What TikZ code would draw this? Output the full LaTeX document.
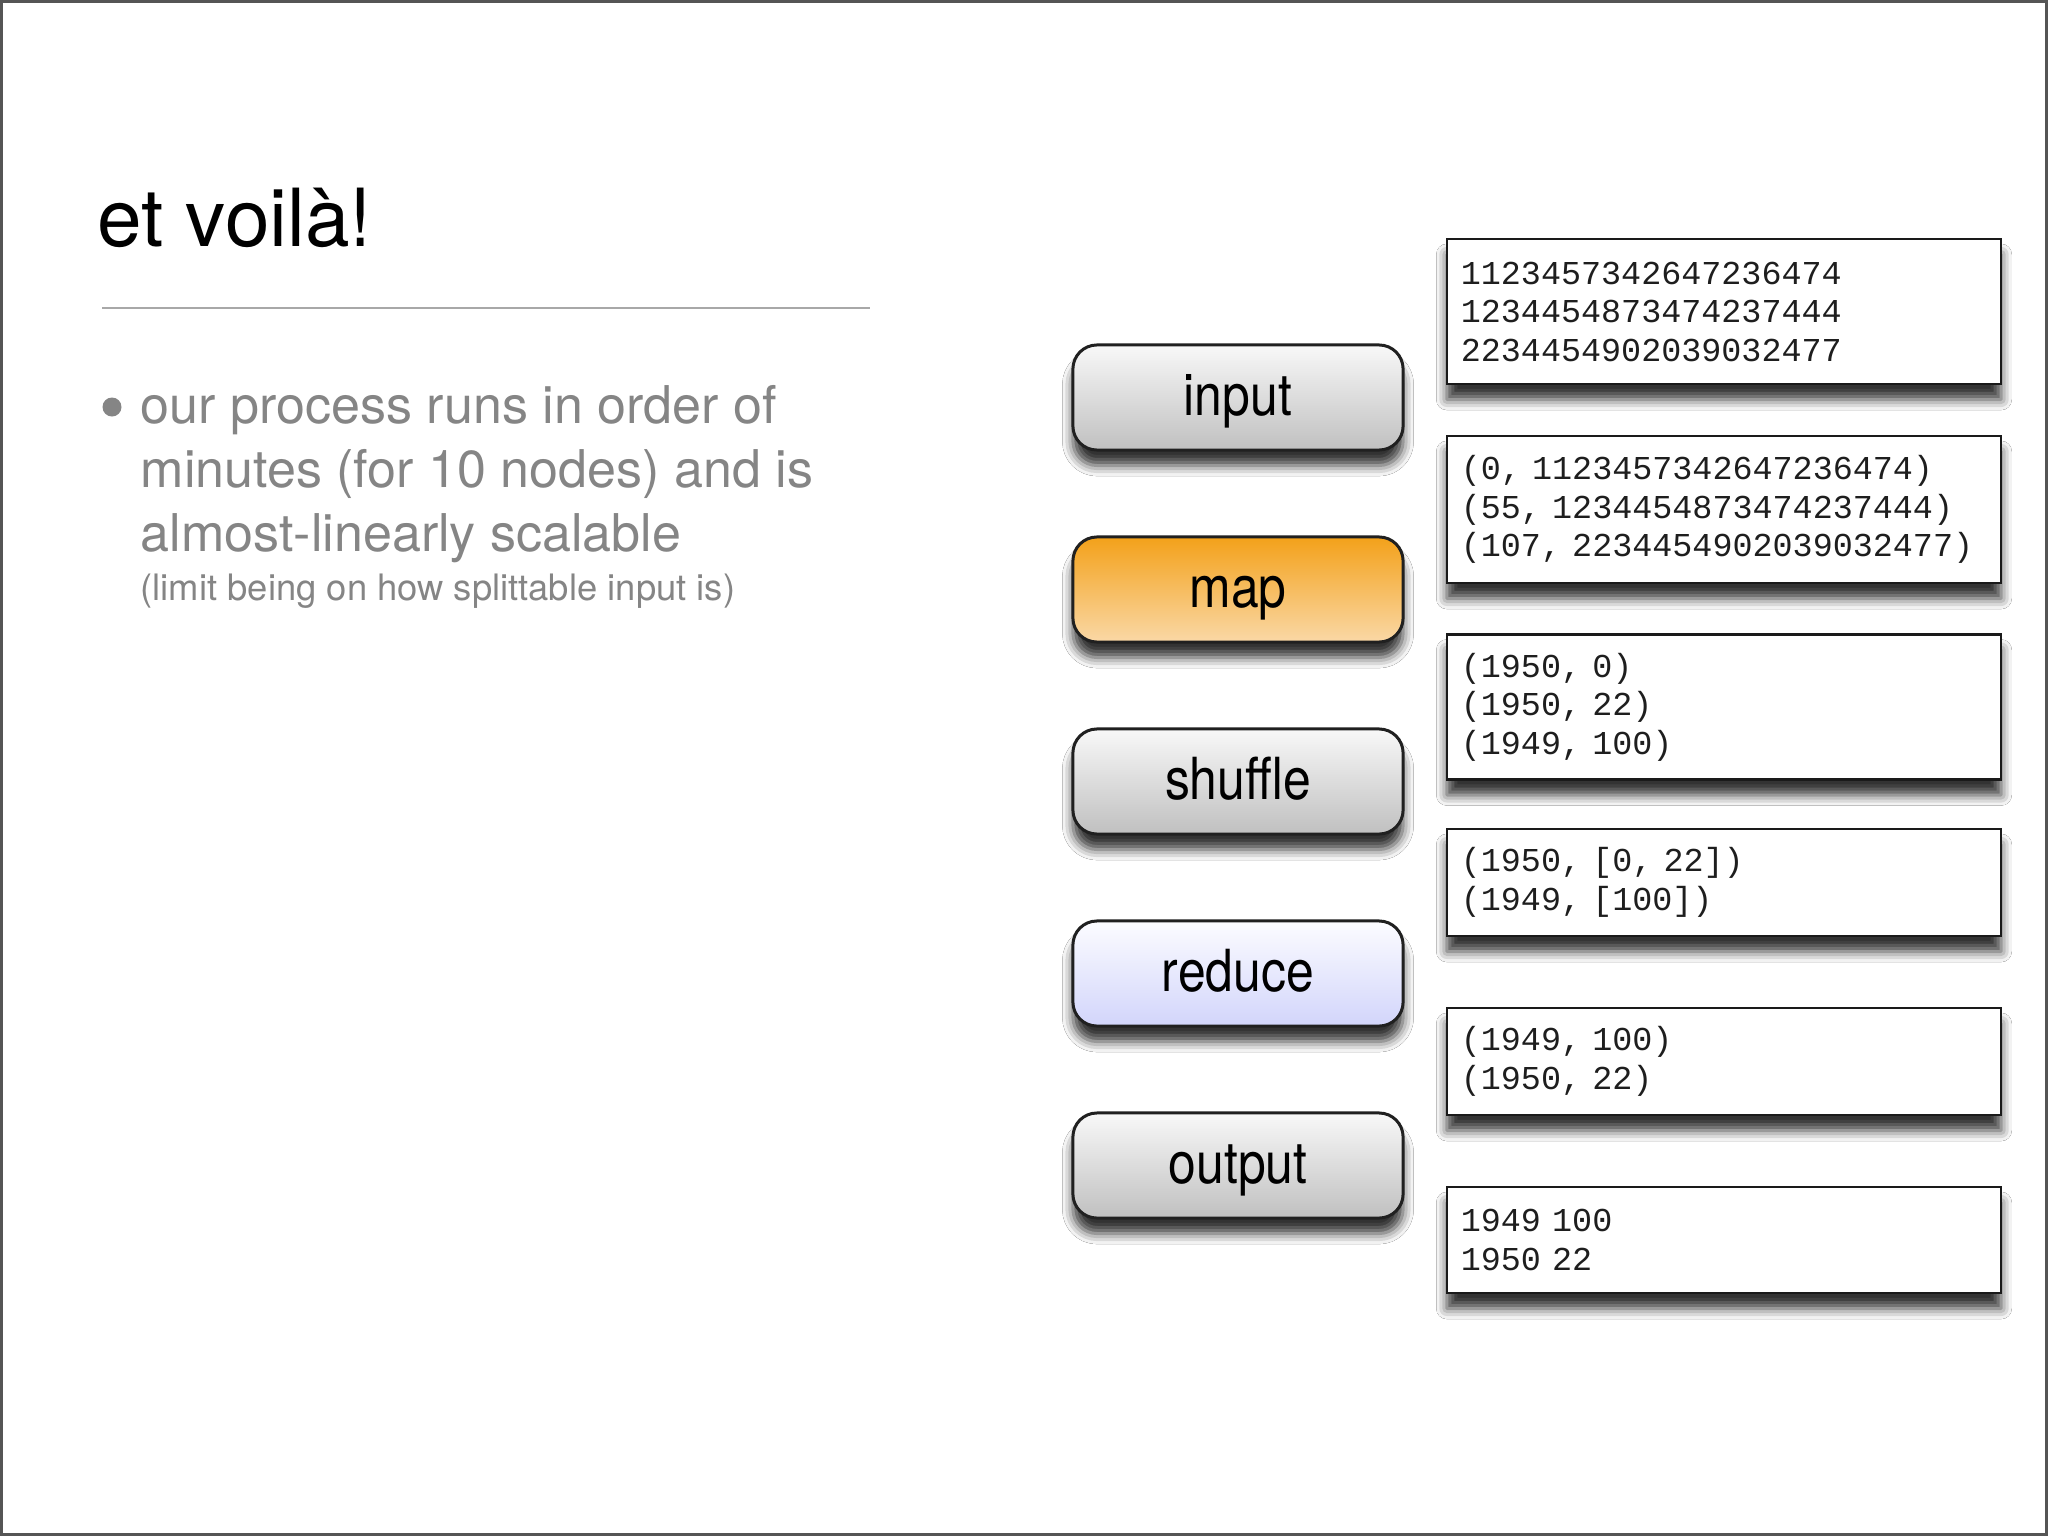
\documentclass[tikz,border=0pt]{standalone}
\usepackage{fontspec}
\usepackage{graphicx}
\setmainfont{TeX Gyre Heros}
\newfontfamily\monofont{Liberation Mono}
\usetikzlibrary{shadows,shadows.blur}
\definecolor{framecol}{HTML}{555555}
\definecolor{rulecol}{HTML}{A8A8A8}
\definecolor{greytext}{HTML}{858585}
\definecolor{btnline}{HTML}{202020}
\definecolor{boxline}{HTML}{1A1A1A}
\definecolor{monotext}{HTML}{1E1E1E}
\definecolor{btntop}{HTML}{F8F8F8}
\definecolor{btnbottom}{HTML}{C0C0C0}
\definecolor{maptop}{HTML}{F3A11A}
\definecolor{mapbottom}{HTML}{FAD8A6}
\definecolor{redtop}{HTML}{FCFCFF}
\definecolor{redbottom}{HTML}{D2D5FB}
\tikzset{
  softshadow/.style={blur shadow={shadow xshift=0pt, shadow yshift=-4.4pt,
    shadow blur radius=3pt, shadow opacity=80}},
  stage/.style={rounded corners=0.24cm, draw=btnline, line width=0.85pt,
    minimum width=3.3cm, minimum height=1.05cm, inner sep=0pt,
    text height=11.9pt, text depth=1.6pt,
    font=\fontsize{16.5pt}{18pt}\selectfont,
    top color=btntop, bottom color=btnbottom, softshadow},
  mapstage/.style={stage, top color=maptop, bottom color=mapbottom},
  redstage/.style={stage, top color=redtop, bottom color=redbottom},
  databox/.style={draw=boxline, line width=0.7pt, fill=white,
    text width=5.26cm, inner xsep=0.14cm, inner ysep=0pt, align=left,
    text=monotext, font=\monofont\fontsize{9.5pt}{10.95pt}\selectfont,
    softshadow},
  bullettext/.style={anchor=base west, inner sep=0pt, text=greytext,
    font=\fontsize{14.8pt}{18pt}\selectfont}
}
\newcommand{\narrowlabel}[1]{\scalebox{0.86}[1]{#1}}
\begin{document}
\begin{tikzpicture}[x=0.01cm,y=-0.01cm]
\useasboundingbox (0,0) rectangle (2048,1536);
\fill[white] (0,0) rectangle (2048,1536);
\draw[framecol, line width=0.85pt] (1.5,1.5) rectangle (2046.5,1534.5);

% title and rule
\node[anchor=base west, inner sep=0pt, font=\fontsize{22.8pt}{26pt}\selectfont] (title) at (97,246) {et voilà!};
\coordinate (ruleL) at (102,308);
\coordinate (ruleR) at (870,308);
\draw[rulecol, line width=0.57pt] (ruleL) -- (ruleR);

% bullet
\fill[greytext] (112,407) circle (9.5);
\node[bullettext] (b1) at (140,423) {our process runs in order of};
\node[bullettext] (b2) at (140,487) {minutes (for 10 nodes) and is};
\node[bullettext] (b3) at (140,551) {almost-linearly scalable};
\node[bullettext, font=\fontsize{10.35pt}{12pt}\selectfont] (b4) at (140,600) {(limit being on how splittable input is)};

% stages
\node[stage] (input) at (1238,397.5) {\narrowlabel{input}};
\node[mapstage] (map) at (1238,589.5) {\narrowlabel{map}};
\node[stage] (shuffle) at (1238,781.5) {\narrowlabel{shuffle}};
\node[redstage] (reduce) at (1238,973.5) {\narrowlabel{reduce}};
\node[stage] (output) at (1238,1165.5) {\narrowlabel{output}};

% data boxes
\node[databox, minimum height=1.45cm] (d1) at (1724,311.5)
  {1123457342647236474\\1234454873474237444\\2234454902039032477};
\node[databox, minimum height=1.47cm] (d2) at (1724,509.5)
  {(0, 1123457342647236474)\\(55, 1234454873474237444)\\(107, 2234454902039032477)};
\node[databox, minimum height=1.45cm] (d3) at (1724,707)
  {(1950, 0)\\(1950, 22)\\(1949, 100)};
\node[databox, minimum height=1.07cm] (d4) at (1724,882.5)
  {(1950, [0, 22])\\(1949, [100])};
\node[databox, minimum height=1.07cm] (d5) at (1724,1061.5)
  {(1949, 100)\\(1950, 22)};
\node[databox, minimum height=1.06cm] (d6) at (1724,1240)
  {1949 100\\1950 22};
\end{tikzpicture}
\end{document}
